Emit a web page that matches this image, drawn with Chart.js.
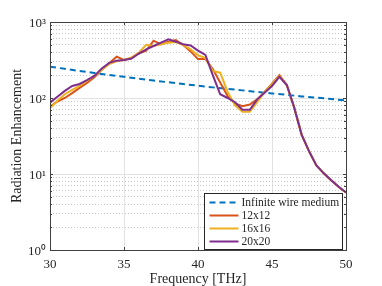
<!DOCTYPE html>
<html><head><meta charset="utf-8">
<script src="https://cdn.jsdelivr.net/npm/chart.js@4.4.1/dist/chart.umd.min.js"></script>
<style>html,body{margin:0;padding:0;background:#fff;overflow:hidden}#wrap{width:382px;height:286px;position:relative}</style>
</head><body><div id="wrap"><canvas id="c" width="382" height="286"></canvas></div>
<script>
// ---- data ----
const freqInf = [30,31,32,33,34,35,36,37,38,39,40,41,42,43,44,45,46,47,48,49,50];
const infinite = [258,242,227,213,201,190,179,170,161,153,145,138,132,126,120,115,110,105,101,97,93];
const freq = [30,30.5,31,31.5,32,32.5,33,33.5,34,34.5,35,35.5,36,36.5,37,37.5,38,38.5,39,39.5,40,40.5,41,41.5,42,42.5,43,43.5,44,44.5,45,45.5,46,46.5,47,47.5,48,48.5,49,49.5,50];
const n12 = [77,90,100,116,136,158,187,235,286,350,316,332,385,420,568,508,550,580,498,410,325,325,240,160,106,85,78,82,96,120,155,200,148,75,33,20,13,10.2,8.3,6.8,5.7];
const n16 = [73,92,112,128,144,168,195,235,280,305,316,343,394,500,483,508,535,545,498,437,365,335,226,215,121,80,66,66,88,120,152,195,148,75,33,20,13,10.2,8.3,6.8,5.7];
const n20 = [87,104,124,144,153,172,195,245,290,310,316,330,385,437,483,535,590,551,510,490,420,368,200,112,100,88,70,70,96,117,144,190,148,75,33,20,13,10.2,8.3,6.8,5.7];
const seriesNames = ['Infinite wire medium','12x12','16x16','20x20'];
const xTicks = [30,35,40,45,50];
const yMajor = [1,10,100,1000];
const yMinor = [2,3,4,5,6,7,8,9,20,30,40,50,60,70,80,90,200,300,400,500,600,700,800,900];
const yLabels = {1:'10\u2070',10:'10\u00B9',100:'10\u00B2',1000:'10\u00B3'};

const FONT = '"Liberation Serif", "Times New Roman", serif';
const TXT = '#262626';
const pts = (xs, ys) => xs.map((x, i) => ({x: x, y: ys[i]}));

const axesDecor = {
  id: 'axesDecor',
  afterDatasetsDraw(chart) {
    const {ctx, chartArea: a, scales} = chart;
    ctx.save();
    ctx.strokeStyle = '#404040';
    ctx.lineWidth = 1;
    ctx.beginPath();
    xTicks.forEach(v => {
      const px = Math.round(scales.x.getPixelForValue(v)) + 0.5;
      ctx.moveTo(px, a.bottom); ctx.lineTo(px, a.bottom - 3);
      ctx.moveTo(px, a.top); ctx.lineTo(px, a.top + 3);
    });
    yMajor.concat(yMinor).forEach(v => {
      const len = yMajor.includes(v) ? 3 : 2;
      const py = Math.round(scales.y.getPixelForValue(v)) + 0.5;
      ctx.moveTo(a.left, py); ctx.lineTo(a.left + len, py);
      ctx.moveTo(a.right, py); ctx.lineTo(a.right - len, py);
    });
    ctx.stroke();
    ctx.strokeRect(Math.round(a.left) + 0.5, Math.round(a.top) + 0.5, Math.round(a.right - a.left), Math.round(a.bottom - a.top));
    ctx.restore();
  }
};

const boxLegend = {
  id: 'boxLegend',
  afterDraw(chart) {
    const {ctx, chartArea: a} = chart;
    const ds = chart.data.datasets;
    const w = 138, h = 56;
    const left = Math.round(a.right - 142) + 0.5, top = Math.round(a.bottom - 57) + 0.5;
    ctx.save();
    ctx.fillStyle = '#ffffff';
    ctx.fillRect(left, top, w, h);
    ctx.strokeStyle = '#262626';
    ctx.lineWidth = 1;
    ctx.strokeRect(left, top, w, h);
    ctx.font = '11.5px ' + FONT;
    ctx.textBaseline = 'middle';
    ctx.textAlign = 'left';
    ds.forEach((d, i) => {
      const y = top + 9 + i * 13;
      ctx.strokeStyle = d.borderColor;
      ctx.lineWidth = 2;
      ctx.setLineDash(d.borderDash || []);
      ctx.beginPath();
      ctx.moveTo(left + 5, y); ctx.lineTo(left + 34, y);
      ctx.stroke();
      ctx.setLineDash([]);
      ctx.fillStyle = TXT;
      ctx.fillText(d.label, left + 37, y + 0.5);
    });
    ctx.restore();
  }
};

const lineDs = (label, data, color, order, dash) => ({
  label, data, borderColor: color, backgroundColor: color, borderWidth: 2,
  borderDash: dash || [], pointRadius: 0, tension: 0, order, yAxisID: 'y', xAxisID: 'x', fill: false
});

new Chart(document.getElementById('c'), {
  type: 'line',
  data: {
    datasets: [
      lineDs(seriesNames[0], pts(freqInf, infinite), '#0072BD', 4, [6, 4]),
      lineDs(seriesNames[1], pts(freq, n12), '#D95319', 3),
      lineDs(seriesNames[2], pts(freq, n16), '#EDB120', 2),
      lineDs(seriesNames[3], pts(freq, n20), '#7E2F8E', 1)
    ]
  },
  options: {
    responsive: false,
    devicePixelRatio: 1,
    animation: false,
    layout: {padding: {top: 22, right: 36, left: 0, bottom: 0}},
    plugins: {legend: {display: false}, tooltip: {enabled: false}},
    scales: {
      x: {
        type: 'linear', min: 30, max: 50,
        afterBuildTicks: s => { s.ticks = xTicks.map(v => ({value: v})); },
        afterFit: s => { s.height = 36; },
        ticks: {font: {family: FONT, size: 13}, color: TXT, padding: 7, maxRotation: 0, autoSkip: false},
        grid: {color: '#e2e2e2', drawTicks: false},
        border: {display: false},
        title: {display: true, text: 'Frequency [THz]', font: {family: FONT, size: 14, lineHeight: 1.0}, color: TXT, padding: {top: 0, bottom: 0}}
      },
      y: {
        type: 'logarithmic', min: 1, max: 1000, position: 'left',
        afterBuildTicks: s => { s.ticks = yMajor.map(v => ({value: v})); },
        afterFit: s => { s.width = 50; },
        ticks: {font: {family: FONT, size: 13}, color: TXT, padding: 4, labelOffset: 2, autoSkip: false, callback: v => yLabels[v] || ''},
        grid: {color: '#e2e2e2', drawTicks: false},
        border: {display: false},
        title: {display: true, text: 'Radiation Enhancement', font: {family: FONT, size: 14}, color: TXT, padding: {top: 9, bottom: 0}}
      },
      y2: {
        type: 'logarithmic', min: 1, max: 1000, position: 'right',
        afterBuildTicks: s => { s.ticks = yMinor.map(v => ({value: v})); },
        afterFit: s => { s.width = 0; },
        ticks: {display: false},
        grid: {color: '#c8c8c8', drawTicks: false},
        border: {display: false, dash: [1, 2]}
      }
    }
  },
  plugins: [axesDecor, boxLegend]
});
</script>
</body></html>
